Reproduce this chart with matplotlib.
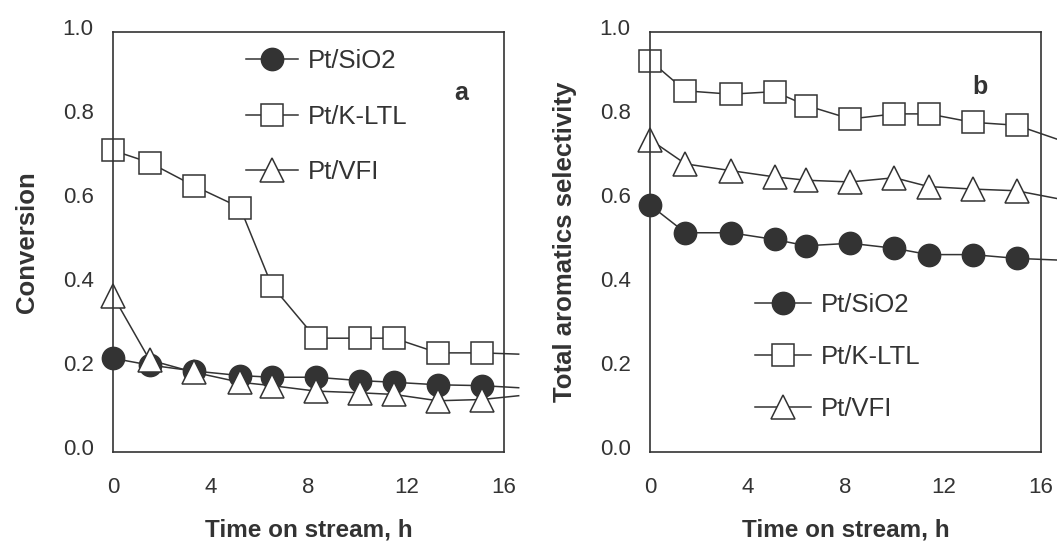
import matplotlib
matplotlib.use('Agg')
import matplotlib.pyplot as plt
from matplotlib.transforms import ScaledTranslation

plt.rcParams['font.family'] = ['Liberation Sans', 'DejaVu Sans']

# time on stream (h); last value is where the line runs off the frame
time_a = [0, 1.5, 3.3, 5.2, 6.5, 8.3, 10.1, 11.5, 13.3, 15.1, 16.6]
time_b = [0, 1.45, 3.3, 5.1, 6.4, 8.2, 10.0, 11.4, 13.2, 15.0, 16.7]

# panel a: conversion
conv_sio2 = [0.223, 0.207, 0.193, 0.182, 0.178, 0.178, 0.170, 0.166, 0.160, 0.158, 0.153]
conv_kltl = [0.718, 0.689, 0.634, 0.582, 0.396, 0.271, 0.271, 0.271, 0.236, 0.236, 0.233]
conv_vfi = [0.372, 0.219, 0.190, 0.166, 0.158, 0.145, 0.141, 0.137, 0.122, 0.125, 0.134]

# panel b: total aromatics selectivity
sel_sio2 = [0.588, 0.522, 0.522, 0.506, 0.491, 0.497, 0.485, 0.470, 0.470, 0.461, 0.457]
sel_kltl = [0.932, 0.860, 0.852, 0.858, 0.825, 0.793, 0.805, 0.805, 0.785, 0.778, 0.744]
sel_vfi = [0.744, 0.686, 0.670, 0.655, 0.647, 0.643, 0.653, 0.632, 0.626, 0.622, 0.603]

labels = ['Pt/SiO2', 'Pt/K-LTL', 'Pt/VFI']
xticks = [0, 4, 8, 12, 16]
yticks = [0.0, 0.2, 0.4, 0.6, 0.8, 1.0]

ink = '#333333'

fig = plt.figure(figsize=(10.57, 5.42), dpi=100)
ax_a = fig.add_axes([113 / 1057, 90 / 542, 391 / 1057, 420 / 542])
ax_b = fig.add_axes([650 / 1057, 90 / 542, 391 / 1057, 420 / 542])


def draw_panel(ax, t, series, ylabel, ypad, tag, tag_xy, leg_anchor, leg_spacing, hlen):
    styles = [
        dict(marker='o', markerfacecolor=ink, markersize=16),
        dict(marker='s', markerfacecolor='white', markersize=16.5),
        dict(marker='^', markerfacecolor='white', markersize=17),
    ]
    handles = []
    for y, st, lab in zip(series, styles, labels):
        h, = ax.plot(t, y, color=ink, lw=1.1, markeredgecolor=ink,
                     markeredgewidth=1.1, markevery=list(range(len(t) - 1)),
                     clip_on=False, label=lab, **st)
        handles.append(h)
    ax.set_xlim(0, 16)
    ax.set_ylim(0, 1)
    ax.set_xticks(xticks)
    ax.set_yticks(yticks)
    ax.set_yticklabels(['%.1f' % v for v in yticks])
    ax.tick_params(length=0, labelsize=16, colors=ink, pad=14)
    ax.tick_params(axis='x', pad=18)
    off = ScaledTranslation(0, 5 / 100, fig.dpi_scale_trans)
    for lb in ax.get_yticklabels():
        lb.set_transform(lb.get_transform() + off)
    for sp in ax.spines.values():
        sp.set_color(ink)
        sp.set_linewidth(1.2)
    ax.set_xlabel('Time on stream, h', fontsize=17.5, fontweight='bold',
                  color=ink, labelpad=15)
    ax.set_ylabel(ylabel, fontsize=18.5, fontweight='bold', color=ink, labelpad=ypad)
    ax.text(tag_xy[0], tag_xy[1], tag, transform=ax.transAxes, fontsize=18,
            fontweight='bold', color=ink, ha='center', va='center')
    ax.legend(handles=handles, loc='upper left', bbox_to_anchor=leg_anchor,
              frameon=False, fontsize=18.5, handlelength=hlen, handletextpad=0.38,
              labelspacing=leg_spacing, borderpad=0, borderaxespad=0,
              labelcolor=ink)


draw_panel(ax_a, time_a, [conv_sio2, conv_kltl, conv_vfi], 'Conversion', 17, 'a',
           (0.891, 0.854), (0.34, 0.959), 1.22, 2.02)
draw_panel(ax_b, time_b, [sel_sio2, sel_kltl, sel_vfi],
           'Total aromatics selectivity', 16, 'b', (0.844, 0.869), (0.269, 0.379), 1.1, 2.18)

fig.savefig('out.png', dpi=100)
